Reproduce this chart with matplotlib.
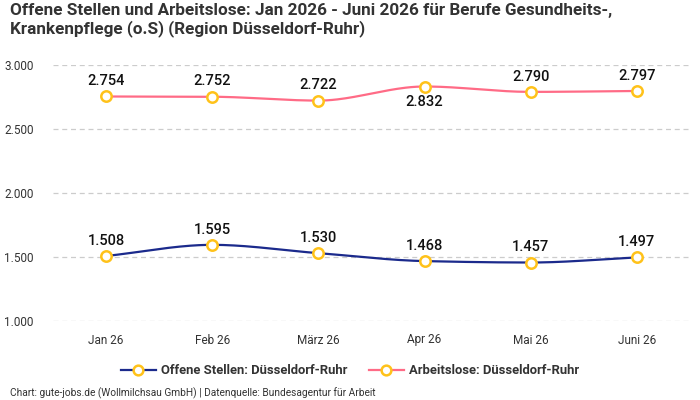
import numpy as np
import matplotlib
matplotlib.use('Agg')
import matplotlib.pyplot as plt
from matplotlib.lines import Line2D

plt.rcParams['font.family'] = ['Roboto', 'DejaVu Sans']

months = ['Jan 26', 'Feb 26', 'März 26', 'Apr 26', 'Mai 26', 'Juni 26']
offene_stellen = [1508, 1595, 1530, 1468, 1457, 1497]
arbeitslose = [2754, 2752, 2722, 2832, 2790, 2797]
yticks = [1000, 1500, 2000, 2500, 3000]

blue = '#1b2a8c'
pink = '#ff6b86'
marker_edge = '#ffc21a'


def fmt(v):
    # deutsches Tausendertrennzeichen
    return f'{v:,}'.replace(',', '.')


def monotone_curve(y, n=40):
    """Glatte Linie durch die Punkte (monotone kubische Hermite-Kurve)."""
    y = np.asarray(y, dtype=float)
    x = np.arange(len(y), dtype=float)
    d = np.diff(y)
    m = np.zeros_like(y)
    m[0], m[-1] = d[0], d[-1]
    for i in range(1, len(y) - 1):
        if d[i - 1] * d[i] <= 0:
            m[i] = 0
        else:
            m[i] = 2 / (1 / d[i - 1] + 1 / d[i])
    xs, ys = [], []
    for i in range(len(y) - 1):
        t = np.linspace(0, 1, n)
        h00 = 2 * t**3 - 3 * t**2 + 1
        h10 = t**3 - 2 * t**2 + t
        h01 = -2 * t**3 + 3 * t**2
        h11 = t**3 - t**2
        xs.append(x[i] + t)
        ys.append(h00 * y[i] + h10 * m[i] + h01 * y[i + 1] + h11 * m[i + 1])
    return np.concatenate(xs), np.concatenate(ys)


fig = plt.figure(figsize=(7, 4), dpi=100)
ax = fig.add_axes([53 / 700, 1 - 321 / 400, 637 / 700, 256 / 400])

x = np.arange(len(months))
for values, color in [(offene_stellen, blue), (arbeitslose, pink)]:
    cx, cy = monotone_curve(values)
    ax.plot(cx, cy, color=color, lw=1.6, zorder=3)
    ax.plot(x, values, 'o', ms=7.5, mfc='white', mec=marker_edge, mew=1.8, zorder=4)

for i, v in enumerate(offene_stellen):
    ax.annotate(fmt(v), (i, v), xytext=(0, 6), textcoords='offset points',
                ha='center', va='bottom', fontsize=10.5, fontweight='medium', color='#111111')
for i, v in enumerate(arbeitslose):
    below = i == 3
    ax.annotate(fmt(v), (i, v), xytext=(0, -6 if below else 6), textcoords='offset points',
                ha='center', va='top' if below else 'bottom', fontsize=10.5,
                fontweight='medium', color='#111111')

ax.set_xlim(-0.5, len(months) - 0.5)
ax.set_ylim(1000, 3000)
ax.set_yticks(yticks)
ax.set_yticklabels([fmt(v) for v in yticks])
ax.set_xticks(x)
ax.set_xticklabels(months)
ax.tick_params(axis='both', length=0, labelsize=8.5, colors='#333333')
ax.tick_params(axis='x', pad=9)
ax.tick_params(axis='y', pad=14)
ax.grid(axis='y', color='#cccccc', ls=(0, (4, 3)), lw=0.9)
for s in ax.spines.values():
    s.set_visible(False)

fig.text(10 / 700, 1 - 3 / 400,
         'Offene Stellen und Arbeitslose: Jan 2026 - Juni 2026 für Berufe Gesundheits-,\n'
         'Krankenpflege (o.S) (Region Düsseldorf-Ruhr)',
         ha='left', va='top', fontsize=12.3, fontweight='bold', color='#333333', linespacing=1.15)

handles = [
    Line2D([], [], color=blue, lw=1.6, marker='o', ms=7, mfc='white', mec=marker_edge, mew=1.8),
    Line2D([], [], color=pink, lw=1.6, marker='o', ms=7, mfc='white', mec=marker_edge, mew=1.8),
]
fig.legend(handles, ['Offene Stellen: Düsseldorf-Ruhr', 'Arbeitslose: Düsseldorf-Ruhr'],
           loc='center', bbox_to_anchor=(0.5, 1 - 371 / 400), ncol=2, frameon=False,
           prop={'size': 9.4, 'weight': 'bold'}, labelcolor='#333333',
           handlelength=2.7, columnspacing=1.6, handletextpad=0.4)

fig.text(10 / 700, 1 - 393 / 400,
         'Chart: gute-jobs.de (Wollmilchsau GmbH) | Datenquelle: Bundesagentur für Arbeit',
         ha='left', va='center', fontsize=7.3, color='#333333')

fig.savefig('out.png', dpi=100, facecolor='white')
